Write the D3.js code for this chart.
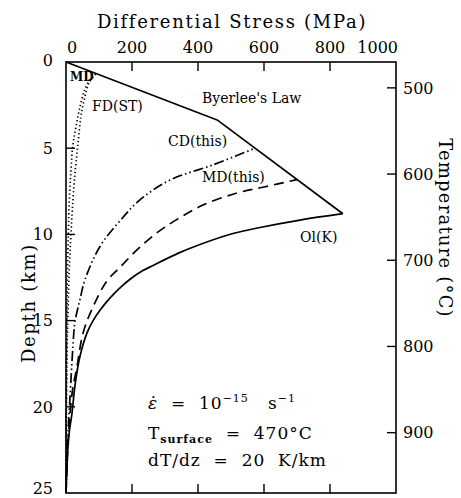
<!DOCTYPE html>
<html>
<head>
<meta charset="utf-8">
<script src="https://cdn.jsdelivr.net/npm/d3@7"></script>
<style>
  html, body { margin: 0; padding: 0; background: #fff; }
  svg text { font-family: "DejaVu Serif", "Liberation Serif", serif; fill: #000; }
</style>
</head>
<body>
<svg id="chart" width="461" height="498"></svg>
<script>
// Strength envelope: differential stress (MPa) versus depth (km)
const stressTicks = [0, 200, 400, 600, 800, 1000];
const depthTicks = [0, 5, 10, 15, 20, 25];
const tempTicks = [500, 600, 700, 800, 900];

const surfaceTemp = 470;   // °C
const gradient = 20;       // K/km

// [stress MPa, depth km]
const byerlee = [[0, 0], [458, 3.36], [839, 8.8]];
const olK = [[0, 25], [2, 24], [6, 22.3], [11, 21.3], [18, 20.4], [27, 18.8], [42, 17.1],
  [64, 15.7], [82, 15.0], [103, 14.4], [133, 13.7], [158, 13.2], [194, 12.6], [233, 12.1],
  [264, 11.8], [339, 11.1], [404, 10.6], [506, 9.95], [588, 9.6], [709, 9.17], [839, 8.8]];
const mdThis = [[0, 25], [5, 22.5], [12, 20.5], [20, 19.0], [33, 17.7], [52, 15.7], [82, 14.2],
  [124, 12.7], [164, 11.9], [215, 10.9], [276, 9.9], [339, 9.1], [415, 8.3], [518, 7.6],
  [600, 7.25], [700, 6.82]];
const cdThis = [[0, 25], [5, 22.0], [12, 19.5], [21, 16.5], [27, 15.1], [42, 13.8], [58, 12.6],
  [103, 10.7], [164, 9.2], [224, 8.0], [315, 6.85], [445, 5.97], [573, 5.0]];
const fdST = [[90, 0.7], [70, 1.2], [55, 2.2], [45, 3.2], [36, 4.8], [28, 6.3], [21, 8.0],
  [15, 10], [10, 12], [6, 14.5], [3, 17], [1.5, 20], [0.5, 23], [0, 25]];
const mdST = [[72, 1.0], [55, 1.7], [40, 2.8], [30, 3.8], [21, 4.8], [15, 6.3], [10, 8.0],
  [7, 10], [4, 12.5], [2.5, 15], [1, 19], [0, 25]];

const svg = d3.select("#chart");
const x = d3.scaleLinear().domain([0, 1000]).range([66, 396]);
const y = d3.scaleLinear().domain([0, 25]).range([62, 493]);
const t = d3.scaleLinear().domain([surfaceTemp, surfaceTemp + gradient * 25]).range([62, 493]);

// frame
svg.append("rect")
  .attr("x", x(0)).attr("y", y(0))
  .attr("width", x(1000) - x(0)).attr("height", y(25) - y(0))
  .attr("fill", "none").attr("stroke", "#000").attr("stroke-width", 1.6);

const tickLen = 9;
function tick(x1, y1, x2, y2) {
  svg.append("line").attr("x1", x1).attr("y1", y1).attr("x2", x2).attr("y2", y2)
    .attr("stroke", "#000").attr("stroke-width", 1.4);
}

// stress ticks on top and bottom, pointing inward
stressTicks.slice(1, -1).forEach(v => {
  tick(x(v), y(0), x(v), y(0) + tickLen);
  tick(x(v), y(25), x(v), y(25) - tickLen);
});
stressTicks.forEach((v, i) => {
  const last = i === stressTicks.length - 1, first = i === 0;
  svg.append("text")
    .attr("x", first ? x(v) + 1 : last ? x(v) + 2 : x(v))
    .attr("y", 53)
    .attr("text-anchor", first ? "start" : last ? "end" : "middle")
    .attr("font-size", 16)
    .text(v);
});

// depth ticks on the left
depthTicks.slice(1, -1).forEach(v => tick(x(0), y(v), x(0) + tickLen, y(v)));
depthTicks.forEach((v, i) => {
  const shift = i === 0 ? -2 : i === depthTicks.length - 1 ? -5 : 0;
  svg.append("text")
    .attr("x", 53).attr("y", y(v) + shift).attr("dy", "0.36em")
    .attr("text-anchor", "end").attr("font-size", 16)
    .text(v);
});

// temperature ticks on the right
tempTicks.forEach(v => {
  tick(x(1000), t(v), x(1000) - tickLen, t(v));
  svg.append("text")
    .attr("x", 403).attr("y", t(v)).attr("dy", "0.36em")
    .attr("text-anchor", "start").attr("font-size", 16)
    .text(v);
});

// axis titles
svg.append("text")
  .attr("x", 232).attr("y", 28).attr("text-anchor", "middle")
  .attr("font-size", 18).attr("letter-spacing", 1.7)
  .text("Differential Stress (MPa)");
svg.append("text")
  .attr("transform", `translate(35,303) rotate(-90)`)
  .attr("text-anchor", "middle").attr("font-size", 18).attr("letter-spacing", 1.7)
  .text("Depth (km)");
svg.append("text")
  .attr("transform", `translate(439,228) rotate(90)`)
  .attr("text-anchor", "middle").attr("font-size", 18).attr("letter-spacing", 1.2)
  .text("Temperature (°C)");

// curves
const curveLine = d3.line()
  .x(d => x(d[0])).y(d => y(d[1]))
  .curve(d3.curveCatmullRom.alpha(0.5));
const straight = d3.line().x(d => x(d[0])).y(d => y(d[1]));

const series = [
  { data: byerlee, gen: straight, dash: null },
  { data: olK, gen: curveLine, dash: null },
  { data: mdThis, gen: curveLine, dash: "10,6" },
  { data: cdThis, gen: curveLine, dash: "10,3,1.5,3,1.5,3" },
  { data: fdST, gen: curveLine, dash: "1.3,2.6" },
  { data: mdST, gen: curveLine, dash: "1.3,2.6" }
];
series.forEach(s => {
  svg.append("path")
    .attr("d", s.gen(s.data))
    .attr("fill", "none").attr("stroke", "#000")
    .attr("stroke-width", 1.7)
    .attr("stroke-linejoin", "round")
    .attr("stroke-dasharray", s.dash);
});

// curve labels
const labels = [
  { text: "MD", x: 70, y: 81, size: 12, weight: "bold" },
  { text: "FD(ST)", x: 92, y: 111, size: 14 },
  { text: "Byerlee's Law", x: 202, y: 103, size: 14 },
  { text: "CD(this)", x: 168, y: 146, size: 14 },
  { text: "MD(this)", x: 202, y: 182, size: 14 },
  { text: "Ol(K)", x: 300, y: 242, size: 14 }
];
labels.forEach(l => {
  svg.append("text").attr("x", l.x).attr("y", l.y)
    .attr("font-size", l.size).attr("font-weight", l.weight || "normal")
    .text(l.text);
});

// conditions
const sp = "\u00A0";
const gap = sp + sp;
const note = svg.append("g").attr("font-size", 17).attr("letter-spacing", 1);
const l1 = note.append("text").attr("x", 148).attr("y", 409);
l1.append("tspan").attr("font-style", "italic").text("\u03B5\u0307");
l1.append("tspan").text(gap + "=" + gap + "10");
l1.append("tspan").attr("font-size", 11).attr("dy", -7).text("\u221215");
l1.append("tspan").attr("dy", 7).text(gap + sp + "s");
l1.append("tspan").attr("font-size", 11).attr("dy", -7).text("\u22121");

const l2 = note.append("text").attr("x", 148).attr("y", 439);
l2.append("tspan").text("T");
l2.append("tspan").attr("font-size", 11).attr("font-weight", "bold").attr("dy", 4).text("surface");
l2.append("tspan").attr("dy", -4).text(gap + "=" + gap + surfaceTemp + "°C");

note.append("text").attr("x", 148).attr("y", 466)
  .text("dT/dz" + gap + "=" + gap + gradient + gap + "K/km");
</script>
</body>
</html>
